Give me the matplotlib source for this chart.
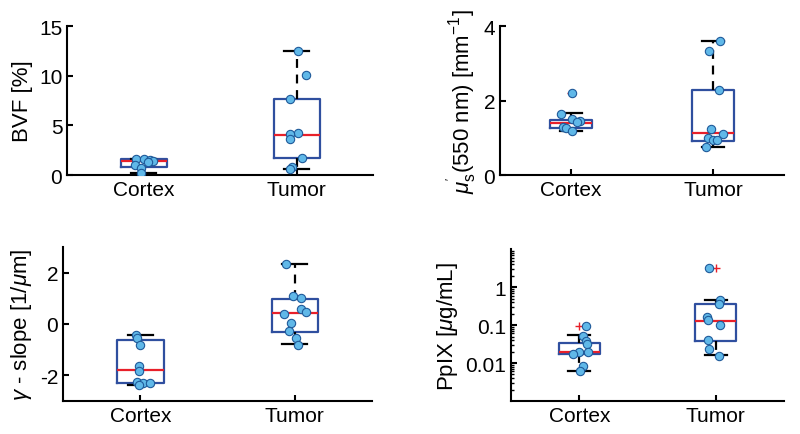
import numpy as np
import matplotlib
matplotlib.use("Agg")
from matplotlib import pyplot as plt
from matplotlib.ticker import LogLocator, NullFormatter

plt.rcParams['font.family'] = ['Liberation Sans', 'DejaVu Sans']
plt.rcParams['mathtext.fontset'] = 'custom'
plt.rcParams['mathtext.rm'] = 'Liberation Sans'
plt.rcParams['mathtext.it'] = 'Liberation Sans:italic'
plt.rcParams['font.size'] = 15
plt.rcParams['axes.unicode_minus'] = False

groups = ["Cortex", "Tumor"]

# BVF [%]
bvf_cortex = [1.65, 1.6, 1.55, 1.45, 1.3, 1.0, 0.7, 0.25]
bvf_cortex_dx = [-0.05, 0.0, 0.04, 0.06, 0.03, -0.06, -0.02, -0.02]
bvf_tumor = [12.5, 10.1, 7.7, 4.2, 4.1, 3.6, 1.7, 0.8, 0.6]
bvf_tumor_dx = [0.01, 0.06, -0.045, 0.01, -0.045, -0.045, 0.035, -0.03, -0.045]
bvf_box = [(0.25, 0.8, 1.38, 1.6, 1.65, []), (0.6, 1.68, 4.05, 7.7, 12.5, [])]

# mu_s' (550 nm) [1/mm]
mus_cortex = [2.2, 1.65, 1.5, 1.45, 1.42, 1.28, 1.26, 1.17]
mus_cortex_dx = [0.01, -0.07, 0.01, 0.065, 0.04, -0.055, -0.035, 0.01]
mus_tumor = [3.6, 3.33, 2.29, 1.23, 1.09, 1.0, 0.95, 0.93, 0.76]
mus_tumor_dx = [0.05, -0.03, 0.04, -0.015, 0.07, -0.035, 0.0, 0.03, -0.05]
mus_box = [(1.17, 1.26, 1.40, 1.49, 1.66, [2.2]), (0.76, 0.92, 1.12, 2.29, 3.6, [])]

# gamma slope [1/um]
gam_cortex = [-0.42, -0.55, -0.81, -1.62, -1.83, -2.27, -2.28, -2.3, -2.38]
gam_cortex_dx = [-0.03, -0.02, -0.005, -0.01, -0.01, -0.025, 0.02, 0.065, -0.01]
gam_tumor = [2.35, 1.1, 1.0, 0.6, 0.45, 0.4, 0.03, -0.27, -0.55, -0.8]
gam_tumor_dx = [-0.06, -0.01, 0.04, 0.04, 0.07, -0.07, -0.025, -0.04, 0.01, 0.02]
gam_box = [(-2.37, -2.29, -1.78, -0.64, -0.42, []), (-0.78, -0.30, 0.43, 0.98, 2.35, [])]

# PpIX [ug/mL]
ppix_cortex = [0.092, 0.052, 0.037, 0.032, 0.02, 0.019, 0.017, 0.0085, 0.0063]
ppix_cortex_dx = [0.045, 0.03, 0.045, 0.055, 0.0, 0.065, -0.045, 0.03, 0.005]
ppix_tumor = [3.2, 0.46, 0.36, 0.16, 0.14, 0.1, 0.04, 0.023, 0.015]
ppix_tumor_dx = [-0.05, 0.03, 0.02, -0.065, -0.06, 0.03, -0.06, -0.05, 0.02]
ppix_box = [(0.0062, 0.017, 0.019, 0.034, 0.055, [0.094]), (0.016, 0.039, 0.13, 0.37, 0.47, [3.1])]

box_col = '#2f4f9f'
med_col = '#e8202a'
pt_face = '#60b8e8'
pt_edge = '#1f5a9a'

fig = plt.figure(figsize=(8, 4.35), dpi=100)
axs = [fig.add_axes([0.084, 0.5954, 0.3825, 0.3425]),
       fig.add_axes([0.625, 0.5954, 0.355, 0.3425]),
       fig.add_axes([0.079, 0.0759, 0.386, 0.354]),
       fig.add_axes([0.639, 0.0759, 0.341, 0.349])]

panels = [
    (bvf_box, [(bvf_cortex, bvf_cortex_dx), (bvf_tumor, bvf_tumor_dx)], "BVF [%]", (0, 15), [0, 5, 10, 15]),
    (mus_box, [(mus_cortex, mus_cortex_dx), (mus_tumor, mus_tumor_dx)],
     r"$\mu^{'}_{\rm s}$(550 nm) [mm$^{-1}$]", (0, 4), [0, 2, 4]),
    (gam_box, [(gam_cortex, gam_cortex_dx), (gam_tumor, gam_tumor_dx)],
     r"$\gamma$ - slope [1/$\mu$m]", (-3, 3), [-2, 0, 2]),
    (ppix_box, [(ppix_cortex, ppix_cortex_dx), (ppix_tumor, ppix_tumor_dx)],
     r"PpIX [$\mu$g/mL]", (1e-3, 10), [0.01, 0.1, 1]),
]

for i, (ax, (box, pts, ylab, ylim, yt)) in enumerate(zip(axs, panels)):
    stats = []
    for b in box:
        stats.append(dict(whislo=b[0], q1=b[1], med=b[2], q3=b[3], whishi=b[4], fliers=b[5]))
    ax.bxp(stats, positions=[1, 2], widths=0.3, capwidths=0.16,
           boxprops=dict(color=box_col, lw=1.6),
           medianprops=dict(color=med_col, lw=1.6),
           whiskerprops=dict(color='black', lw=1.6, linestyle=(0, (4, 3))),
           capprops=dict(color='black', lw=1.6),
           flierprops=dict(marker='+', markeredgecolor=med_col, markersize=6, markeredgewidth=1.0))
    for k, (vals, dx) in enumerate(pts):
        ax.plot(np.array(dx) + k + 1, vals, 'o', ms=6, mfc=pt_face, mec=pt_edge, mew=0.8, zorder=5)
    if i == 3:
        ax.set_yscale('log')
        ax.yaxis.set_minor_locator(LogLocator(base=10, subs=np.arange(2, 10), numticks=20))
        ax.yaxis.set_minor_formatter(NullFormatter())
        ax.set_yticks(yt)
        ax.set_yticklabels(["0.01", "0.1", "1"])
    else:
        ax.set_yticks(yt)
    ax.set_ylim(ylim)
    ax.set_xlim(0.5, 2.5)
    ax.set_xticks([1, 2])
    ax.set_xticklabels(groups)
    ax.set_ylabel(ylab, fontsize=16)
    for s in ['top', 'right']:
        ax.spines[s].set_visible(False)
    for s in ['left', 'bottom']:
        ax.spines[s].set_linewidth(1.5)
    ax.tick_params(direction='in', length=4, width=1.5, labelsize=15)
    ax.tick_params(which='minor', direction='in', length=2.5, width=1.0)

fig.savefig("out.png", dpi=100)
